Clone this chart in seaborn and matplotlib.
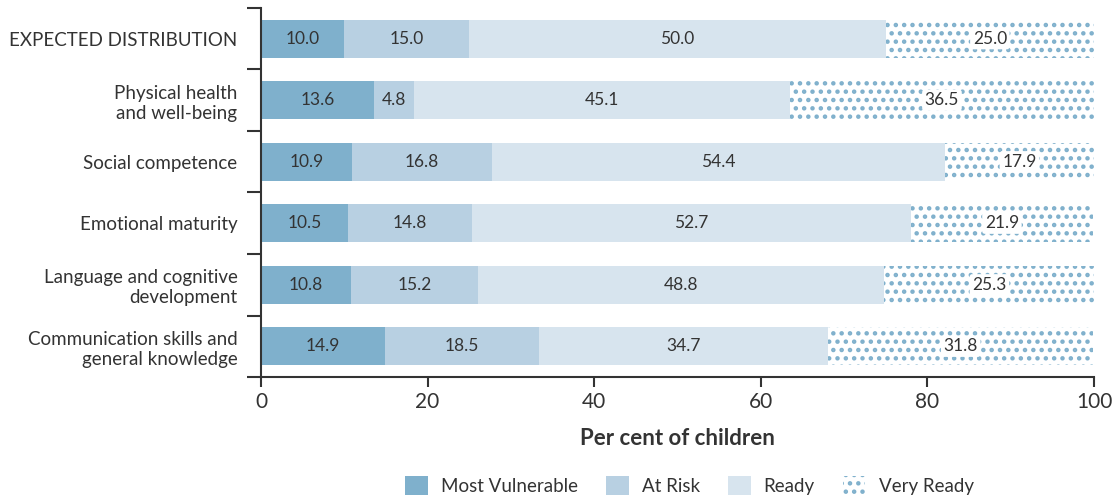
import numpy as np
import pandas as pd
import seaborn as sns
from matplotlib import pyplot as plt
from matplotlib.patches import Patch

# data
categories = ["EXPECTED DISTRIBUTION", "Physical health\nand well-being", "Social competence",
              "Emotional maturity", "Language and cognitive\ndevelopment",
              "Communication skills and\ngeneral knowledge"]
most_vulnerable = [10.0, 13.6, 10.9, 10.5, 10.8, 14.9]
at_risk = [15.0, 4.8, 16.8, 14.8, 15.2, 18.5]
ready = [50.0, 45.1, 54.4, 52.7, 48.8, 34.7]
very_ready = [25.0, 36.5, 17.9, 21.9, 25.3, 31.8]
series_names = ["Most Vulnerable", "At Risk", "Ready", "Very Ready"]

colors = ["#7fb0cc", "#b8d0e2", "#d7e4ee", "#7fb0cc"]
txt = "#333333"

sns.set_style("white")
plt.rcParams['font.family'] = ['Lato', 'DejaVu Sans']
plt.rcParams['hatch.linewidth'] = 2.0
plt.rcParams['hatch.color'] = colors[3]

df = pd.DataFrame({"category": categories, "mv": most_vulnerable, "ar": at_risk,
                   "rd": ready, "vr": very_ready})
df["c1"] = df.mv
df["c2"] = df.c1 + df.ar
df["c3"] = df.c2 + df.rd
df["c4"] = df.c3 + df.vr

fig, ax = plt.subplots(figsize=(11.12, 4.97), dpi=100)
fig.subplots_adjust(left=0.2347, right=0.9838, top=0.984, bottom=0.2414)

# overlay cumulative bars, widest first
layers = [("c4", 3), ("c3", 2), ("c2", 1), ("c1", 0)]
for col, i in layers:
    n_before = len(ax.patches)
    sns.barplot(data=df, x=col, y="category", orient="h", color=colors[i],
                width=0.62, ax=ax, saturation=1)
    for p in ax.patches[n_before:]:
        if i == 3:
            p.set_facecolor("white")
            p.set_edgecolor(colors[3])
            p.set_hatch("..")
            p.set_linewidth(0)
        else:
            p.set_edgecolor("none")
            p.set_linewidth(0)

# segment labels
starts = [np.zeros(len(df)), df.c1.values, df.c2.values, df.c3.values]
vals = [df.mv.values, df.ar.values, df.rd.values, df.vr.values]
for k in range(4):
    for j in range(len(df)):
        x = starts[k][j] + vals[k][j] / 2
        kw = {}
        if k == 3:
            kw["bbox"] = dict(boxstyle="round,pad=0.15", fc="white", ec="none")
        ax.text(x, j, f"{vals[k][j]:.1f}", ha="center", va="center", fontsize=12.5,
                color=txt, **kw)

ax.set_xlim(0, 100)
ax.set_ylim(len(df) - 0.5, -0.5)
ax.set_xticks([0, 20, 40, 60, 80, 100])
ax.set_yticks(np.arange(-0.5, len(df), 1.0))
ax.set_yticklabels([])
ax.set_yticks(np.arange(len(df)), labels=categories, minor=True)
ax.tick_params(axis="y", which="major", left=True, length=10, width=1.5, color=txt,
               direction="out")
ax.tick_params(axis="y", which="minor", left=True, length=0, labelsize=13.5,
               labelcolor=txt, pad=17)
ax.tick_params(axis="x", bottom=True, length=7, width=1.5, color=txt, labelsize=15,
               labelcolor=txt)
for lab in ax.get_yticklabels(minor=True):
    lab.set_horizontalalignment("right")
    lab.set_multialignment("right")
ax.set_ylabel("")
ax.set_xlabel("Per cent of children", fontsize=16, fontweight="bold", color=txt, labelpad=12)

sns.despine(ax=ax, top=True, right=True)
for s in ["left", "bottom"]:
    ax.spines[s].set_linewidth(1.5)
    ax.spines[s].set_color(txt)

handles = [Patch(facecolor=colors[0], edgecolor="none"),
           Patch(facecolor=colors[1], edgecolor="none"),
           Patch(facecolor=colors[2], edgecolor="none"),
           Patch(facecolor="white", edgecolor=colors[3], hatch="..", linewidth=0)]
fig.legend(handles, series_names, loc="lower center", bbox_to_anchor=(0.62, -0.03),
           ncol=4, frameon=False, fontsize=13.5, handlelength=1.2, handleheight=1.2,
           handletextpad=0.7, columnspacing=1.5, labelcolor=txt)

fig.savefig("out.png", dpi=100)
